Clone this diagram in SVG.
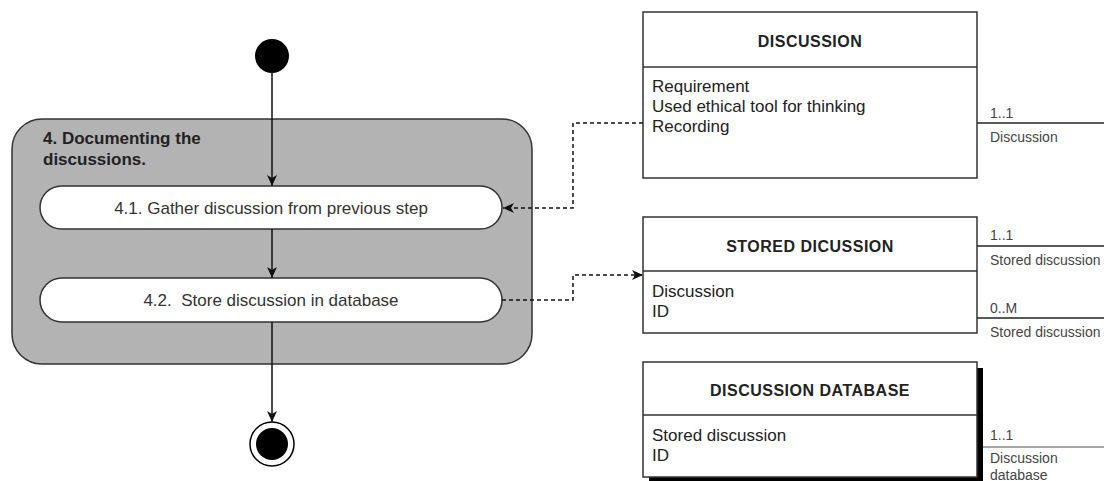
<svg xmlns="http://www.w3.org/2000/svg" width="1104" height="481" viewBox="0 0 1104 481">
  <style>
    .lbl { font-family: "Liberation Sans", Arial, sans-serif; font-size: 17px; fill: #222; }
    .act { font-family: "Liberation Sans", Arial, sans-serif; font-size: 17px; fill: #333; text-anchor: middle; white-space: pre; }
    .title { font-family: "Liberation Sans", Arial, sans-serif; font-size: 17px; font-weight: bold; fill: #222; }
    .hdr { font-family: "Liberation Sans", Arial, sans-serif; font-size: 16px; font-weight: bold; letter-spacing: 0.5px; fill: #222; text-anchor: middle; }
    .small { font-family: "Liberation Sans", Arial, sans-serif; font-size: 14px; fill: #444; }
    .box { fill: #fff; stroke: #333; stroke-width: 1.5; }
    .pill { fill: #fff; stroke: #333; stroke-width: 1.5; }
    .flow { fill: none; stroke: #111; stroke-width: 1.5; }
    .dash { fill: none; stroke: #111; stroke-width: 1.5; stroke-dasharray: 4 3; }
    .assoc { fill: none; stroke: #222; stroke-width: 1.5; }
  </style>
  <defs>
    <marker id="arrow" markerUnits="userSpaceOnUse" markerWidth="12" markerHeight="10" refX="11" refY="5" orient="auto">
      <path d="M0,0 L11,5 L0,10 L3,5 Z" fill="#111"/>
    </marker>
  </defs>

  <rect width="1104" height="481" fill="#fff"/>

  <!-- composite activity -->
  <g id="activity-4">
    <rect x="12" y="119" width="520" height="245" rx="30" ry="30" fill="#b3b3b3" stroke="#333" stroke-width="1.5"/>
    <text class="title" x="43" y="144">4. Documenting the</text>
    <text class="title" x="43" y="165">discussions.</text>
  </g>

  <g id="start">
    <circle cx="272" cy="56" r="17" fill="#000"/>
  </g>

  <g id="step-4-1">
    <rect class="pill" x="40" y="186" width="462" height="43" rx="21.5" ry="21.5"/>
    <text class="act" x="271" y="214">4.1. Gather discussion from previous step</text>
  </g>

  <g id="step-4-2">
    <rect class="pill" x="40" y="278" width="462" height="44" rx="22" ry="22"/>
    <text class="act" x="271" y="306">4.2.  Store discussion in database</text>
  </g>

  <g id="end">
    <circle cx="272" cy="444" r="22" fill="#fff" stroke="#000" stroke-width="1.5"/>
    <circle cx="272" cy="444" r="16" fill="#000"/>
  </g>

  <!-- entities -->
  <g id="discussion">
    <rect class="box" x="643" y="12" width="334" height="166"/>
    <line x1="643" y1="67" x2="977" y2="67" stroke="#333" stroke-width="1.5"/>
    <text class="hdr" x="810" y="47">DISCUSSION</text>
    <text class="lbl" x="652" y="92">Requirement</text>
    <text class="lbl" x="652" y="112">Used ethical tool for thinking</text>
    <text class="lbl" x="652" y="132">Recording</text>
  </g>

  <g id="stored-discussion">
    <rect class="box" x="643" y="217" width="334" height="116"/>
    <line x1="643" y1="271" x2="977" y2="271" stroke="#333" stroke-width="1.5"/>
    <text class="hdr" x="810" y="252">STORED DICUSSION</text>
    <text class="lbl" x="652" y="297">Discussion</text>
    <text class="lbl" x="652" y="317">ID</text>
  </g>

  <g id="discussion-database">
    <rect x="649" y="368" width="334" height="115" fill="#000"/>
    <rect class="box" x="643" y="362" width="334" height="115"/>
    <line x1="643" y1="415" x2="977" y2="415" stroke="#333" stroke-width="1.5"/>
    <text class="hdr" x="810" y="396">DISCUSSION DATABASE</text>
    <text class="lbl" x="652" y="441">Stored discussion</text>
    <text class="lbl" x="652" y="461">ID</text>
  </g>

  <!-- connectors -->
  <g id="connectors">
    <line class="flow" x1="272" y1="73" x2="272" y2="186" marker-end="url(#arrow)"/>
    <line class="flow" x1="272" y1="229" x2="272" y2="278" marker-end="url(#arrow)"/>
    <line class="flow" x1="272" y1="322" x2="272" y2="422" marker-end="url(#arrow)"/>
    <path class="dash" d="M643,123 H573 V208 H503" marker-end="url(#arrow)"/>
    <path class="dash" d="M502,300 H573 V275 H643" marker-end="url(#arrow)"/>

    <line class="assoc" x1="977" y1="123" x2="1104" y2="123"/>
    <text class="small" x="990" y="118">1..1</text>
    <text class="small" x="990" y="142">Discussion</text>

    <line class="assoc" x1="977" y1="246" x2="1104" y2="246"/>
    <text class="small" x="990" y="240">1..1</text>
    <text class="small" x="990" y="265">Stored discussion</text>

    <line class="assoc" x1="977" y1="318" x2="1104" y2="318"/>
    <text class="small" x="990" y="313">0..M</text>
    <text class="small" x="990" y="337">Stored discussion</text>

    <line x1="983" y1="447" x2="1104" y2="447" stroke="#888" stroke-width="1.5"/>
    <text class="small" x="990" y="440">1..1</text>
    <text class="small" x="990" y="463">Discussion</text>
    <text class="small" x="990" y="480">database</text>
  </g>
</svg>
